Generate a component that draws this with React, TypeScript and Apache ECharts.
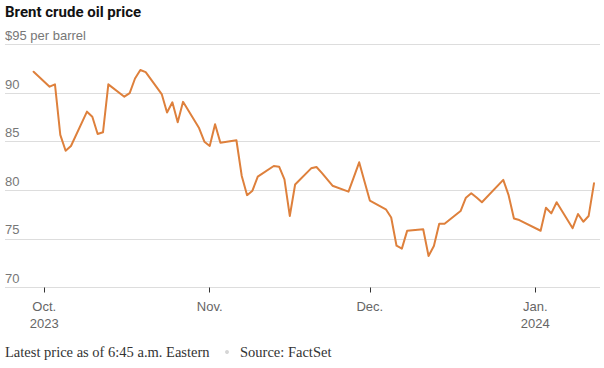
import React, { useEffect, useRef } from "react";
import * as echarts from "echarts";

const dates = [
  "2023-09-29", "2023-10-02", "2023-10-03", "2023-10-04", "2023-10-05", "2023-10-06",
  "2023-10-09", "2023-10-10", "2023-10-11", "2023-10-12", "2023-10-13",
  "2023-10-16", "2023-10-17", "2023-10-18", "2023-10-19", "2023-10-20",
  "2023-10-23", "2023-10-24", "2023-10-25", "2023-10-26", "2023-10-27",
  "2023-10-30", "2023-10-31", "2023-11-01", "2023-11-02", "2023-11-03",
  "2023-11-06", "2023-11-07", "2023-11-08", "2023-11-09", "2023-11-10",
  "2023-11-13", "2023-11-14", "2023-11-15", "2023-11-16", "2023-11-17",
  "2023-11-20", "2023-11-21", "2023-11-22", "2023-11-24",
  "2023-11-27", "2023-11-28", "2023-11-29", "2023-11-30", "2023-12-01",
  "2023-12-04", "2023-12-05", "2023-12-06", "2023-12-07", "2023-12-08",
  "2023-12-11", "2023-12-12", "2023-12-13", "2023-12-14", "2023-12-15",
  "2023-12-18", "2023-12-19", "2023-12-20", "2023-12-21", "2023-12-22",
  "2023-12-26", "2023-12-27", "2023-12-28", "2023-12-29",
  "2024-01-02", "2024-01-03", "2024-01-04", "2024-01-05",
  "2024-01-08", "2024-01-09", "2024-01-10", "2024-01-11", "2024-01-12",
];

const prices = [
  92.2, 90.66, 90.9, 85.7, 84.07, 84.56,
  88.09, 87.57, 85.8, 85.97, 90.9,
  89.63, 90.0, 91.5, 92.38, 92.16,
  89.9, 88.0, 89.05, 87.0, 89.1,
  86.4, 85.0, 84.56, 86.8, 84.9,
  85.15, 81.47, 79.5, 79.96, 81.4,
  82.5, 82.43, 81.13, 77.36, 80.6,
  82.26, 82.4, 81.8, 80.47,
  79.86, 81.36, 82.88, 80.9, 78.95,
  78.05, 77.2, 74.3, 74.0, 75.85,
  76.0, 73.24, 74.27, 76.56, 76.55,
  77.87, 79.24, 79.7, 79.25, 78.77,
  81.07, 79.5, 77.1, 76.94,
  75.84, 78.2, 77.63, 78.77,
  76.1, 77.56, 76.77, 77.36, 80.72,
];

const xTickDates = ["2023-10-01", "2023-11-01", "2023-12-01", "2024-01-01"];
const xTickLabels = ["Oct.\n2023", "Nov.", "Dec.", "Jan.\n2024"];
const yTicks = [70, 75, 80, 85, 90, 95];
const yTickLabels = ["70", "75", "80", "85", "90", "$95 per barrel"];

const toTime = (s: string) => {
  const [y, m, d] = s.split("-").map(Number);
  return new Date(y, m - 1, d).getTime();
};

export default function App() {
  const ref = useRef<HTMLDivElement>(null);

  useEffect(() => {
    document.body.style.margin = "0";
    if (!ref.current) return;
    const chart = echarts.init(ref.current, null, { renderer: "svg" });
    const xTickTimes = xTickDates.map(toTime);
    const seriesData = dates.map((d, i) => [toTime(d), prices[i]]);

    chart.setOption({
      animation: false,
      title: {
        text: "Brent crude oil price",
        left: 5,
        top: 4,
        padding: 0,
        textStyle: {
          fontFamily: "Roboto",
          fontSize: 15,
          fontWeight: "bold",
          color: "#121212",
        },
      },
      grid: {
        left: 5,
        right: 4,
        top: 44.5,
        bottom: 80.5,
        containLabel: false,
        outerBoundsMode: "none",
      },
      xAxis: {
        type: "value",
        min: new Date(2023, 8, 23, 15, 20).getTime(),
        max: new Date(2024, 0, 13, 3, 0).getTime(),
        axisLine: { show: false },
        splitLine: { show: false },
        axisTick: {
          show: true,
          customValues: xTickTimes,
          length: 5,
          lineStyle: { color: "#333", width: 1 },
        },
        axisLabel: {
          customValues: xTickTimes,
          formatter: (v: number) => {
            const i = xTickTimes.indexOf(v);
            return i >= 0 ? xTickLabels[i] : "";
          },
          color: "#666",
          fontFamily: "Liberation Sans",
          fontSize: 13,
          lineHeight: 16.5,
          margin: 11,
          hideOverlap: false,
        },
      },
      yAxis: {
        type: "value",
        min: 70,
        max: 95,
        interval: 5,
        axisLine: { show: false },
        axisTick: { show: false },
        splitLine: { show: true, lineStyle: { color: "#dddddd", width: 1 } },
        axisLabel: {
          inside: true,
          margin: 0,
          verticalAlign: "bottom",
          lineHeight: 18,
          color: "#777",
          fontFamily: "Liberation Sans",
          fontSize: 13,
          formatter: (v: number) => {
            const i = yTicks.indexOf(v);
            return i >= 0 ? yTickLabels[i] : "";
          },
        },
      },
      series: [
        {
          type: "line",
          data: seriesData,
          showSymbol: false,
          smooth: false,
          lineStyle: { color: "#de803c", width: 2, join: "round", cap: "round" },
          z: 5,
        },
      ],
      graphic: [
        {
          type: "text",
          left: 5,
          top: 344,
          style: {
            text: "Latest price as of 6:45 a.m. Eastern",
            font: '14.5px "Liberation Serif"',
            fill: "#333",
          },
        },
        {
          type: "circle",
          shape: { cx: 227, cy: 352, r: 2 },
          style: { fill: "#d6d6d6" },
        },
        {
          type: "text",
          left: 240,
          top: 344,
          style: {
            text: "Source: FactSet",
            font: '14.5px "Liberation Serif"',
            fill: "#333",
          },
        },
      ],
    });

    return () => chart.dispose();
  }, []);

  return <div ref={ref} style={{ width: 604, height: 368 }} />;
}
